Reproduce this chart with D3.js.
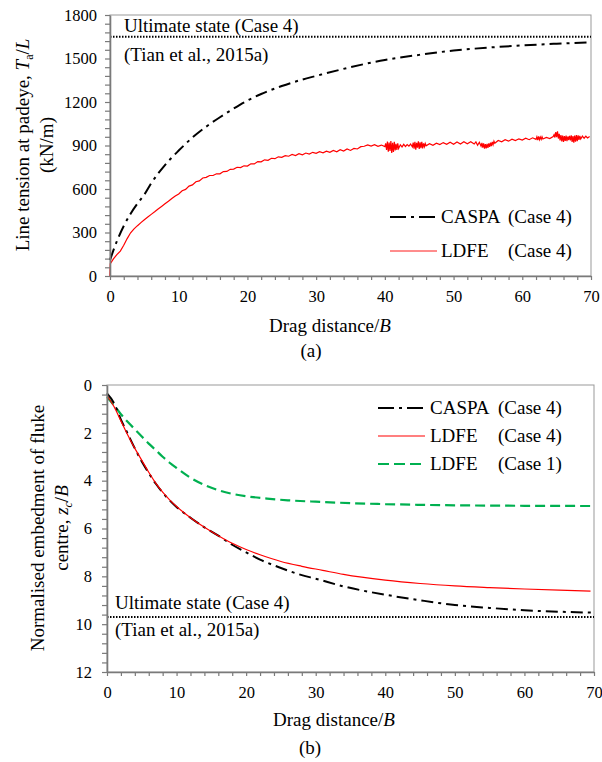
<!DOCTYPE html>
<html><head><meta charset="utf-8">
<script src="https://cdn.jsdelivr.net/npm/d3@7"></script>
<style>
body{margin:0;background:#fff}
svg{display:block}
text{font-family:"Liberation Serif","Times New Roman",serif;fill:#000}
</style>
</head><body>
<svg id="c" width="602" height="762" font-family='"Liberation Serif","Times New Roman",serif'></svg>
<script>
// ---------- DATA ----------
// (a) line tension at padeye (kN/m) vs drag distance/B
const caspaTension = [[0,110],[1,240],[2,345],[3,430],[4,500],[5,562],[6,640],[8,765],[10,865],[12,955],[14,1030],[16,1095],[18,1155],[20,1210],[22,1255],[25,1310],[28,1355],[30,1380],[35,1440],[40,1490],[45,1525],[50,1555],[55,1575],[60,1590],[65,1602],[70,1612]];
const ldfeTension = [[0,0],[0.05,85],[0.5,118],[1,148],[1.5,172],[2,212],[2.5,258],[3,298],[3.5,325],[4,347],[4.5,368],[5,388],[5.5,407],[6,425],[6.5,443],[7,462],[7.5,480],[8,498],[8.5,515],[9,535],[9.5,552],
[10,566],[10.5,588],[11,597],[11.5,620],[12,628],[12.5,650],[13,656],[13.5,676],[14,680],[14.5,693],[15,693],[15.5,705],[16,705],[16.5,720],[17,721],[17.5,736],[18,737],[18.5,750],[19,748],[19.5,760],[20,758],[20.5,774],[21,773],[21.5,789],[22,787],[22.5,801],[23,798],[23.5,812],[24,809],[24.5,822],[25,818],[25.5,830],[26,826],[26.5,838],[27,831],[27.5,843],[28,836],[28.5,848],[29,841],[29.5,853],[30,846],[30.5,857],[31,850],[31.5,861],[32,853],[32.5,866],[33,857],[33.5,871],[34,862],[34.5,876],[35,866],[35.5,880],[36,876],[36.5,892],[37,895],[37.5,904],[38,896],[38.5,905],[39,894],[39.5,903],
[40,892],[40.125,915],[40.25,870],[40.375,928],[40.5,858],[40.625,920],[40.75,862],[40.875,930],[41,848],[41.125,918],[41.25,855],[41.375,925],[41.5,866],[41.625,912],[41.75,870],[41.875,915],[42,880],
[42.25,905],[42.5,890],[42.75,908],[43,893],[43.25,906],[43.5,895],[43.75,910],[44,890],
[44.125,920],[44.25,878],[44.375,926],[44.5,872],[44.625,918],[44.75,885],[44.875,928],[45,876],[45.125,922],[45.25,882],[45.375,925],[45.5,880],[45.625,915],[45.75,892],[45.875,914],[46,898],
[46.5,912],[47,902],[47.5,916],[48,906],[48.5,920],[49,908],[49.5,922],[50,908],[50.5,924],[51,910],[51.5,926],[52,912],[52.5,926],[53,910],
[53.25,925],[53.5,902],[53.75,922],[54,895],[54.125,918],[54.25,885],[54.375,915],[54.5,878],[54.625,910],[54.75,880],[54.875,912],[55,884],[55.125,915],[55.25,890],[55.375,920],[55.5,895],[55.625,925],[55.75,905],[55.875,930],[56,915],
[56.5,935],[57,926],[57.5,940],[58,930],[58.5,944],[59,934],[59.5,946],[60,937],[60.5,950],[61,940],[61.5,953],[62,942],
[62.125,960],[62.25,938],[62.375,962],[62.5,940],[62.625,958],[62.75,942],[62.875,960],[63,945],[63.5,956],[64,948],[64.5,962],
[64.625,975],[64.75,955],[64.875,992],[65,958],[65.125,998],[65.25,948],[65.375,980],[65.5,935],[65.625,972],[65.75,928],[65.875,968],[66,925],[66.125,965],[66.25,932],[66.375,968],[66.5,930],[66.625,962],[66.75,938],[66.875,966],[67,935],[67.125,970],[67.25,925],[67.375,965],[67.5,920],[67.625,968],[67.75,926],[67.875,972],[68,930],[68.125,970],[68.25,938],[68.375,966],[68.5,945],[68.75,965],[69,950],[69.25,964],[69.5,952],[69.8,962]];
const ultimateTension = 1650;

// (b) normalised embedment of fluke centre z_c/B vs drag distance/B
const caspaEmbed = [[0,0.35],[1,0.75],[2,1.45],[3,2.05],[4,2.65],[5,3.2],[6,3.68],[7,4.12],[8,4.5],[9,4.82],[10,5.1],[12,5.55],[14,5.95],[16,6.3],[18,6.68],[20,7.0],[22,7.3],[25,7.65],[28,7.95],[30,8.1],[34,8.42],[40,8.77],[45,9.0],[50,9.2],[55,9.32],[60,9.42],[65,9.48],[70,9.52]];
const ldfeEmbed4 = [[0,0.45],[1,0.9],[2,1.5],[3,2.1],[4,2.65],[5,3.15],[6,3.65],[7,4.1],[8,4.48],[9,4.8],[10,5.08],[12,5.55],[14,5.95],[16,6.3],[18,6.62],[20,6.88],[22,7.1],[25,7.38],[28,7.58],[31,7.75],[34,7.92],[40,8.16],[45,8.3],[50,8.4],[55,8.47],[60,8.53],[65,8.58],[69.5,8.62]];
const ldfeEmbed1 = [[0,0.5],[1,0.85],[2,1.22],[3,1.55],[4,1.85],[5,2.15],[6,2.45],[7,2.72],[8,3.0],[9,3.25],[10,3.47],[12,3.88],[14,4.18],[16,4.4],[18,4.55],[20,4.65],[23,4.75],[26,4.82],[30,4.88],[35,4.94],[40,4.98],[45,5.01],[50,5.03],[60,5.05],[70,5.06]];
const ultimateEmbed = 9.7;

const xTickValues = d3.range(0, 71, 2);
const xMajor = [0,10,20,30,40,50,60,70];
const tensionTickValues = d3.range(0, 1801, 60);
const tensionMajor = [0,300,600,900,1200,1500,1800];
const embedTickValues = d3.range(0, 31).map(i => +(i*0.4).toFixed(1));
const embedMajor = [0,2,4,6,8,10,12];

const legendA = [{name:"CASPA", case:"(Case 4)", key:"caspa"},{name:"LDFE", case:"(Case 4)", key:"ldfe4"}];
const legendB = [{name:"CASPA", case:"(Case 4)", key:"caspa"},{name:"LDFE", case:"(Case 4)", key:"ldfe4"},{name:"LDFE", case:"(Case 1)", key:"ldfe1"}];

// ---------- STYLES ----------
const FONT = '"Liberation Serif","Times New Roman",serif';
const styles = {
  caspa:{stroke:"#000", width:2, dash:"12,5,3,5", legDash:"16,5,3,5"},
  ldfe4:{stroke:"#ff0000", width:1.2, dash:null, legDash:null},
  ldfe1:{stroke:"#00b050", width:2.2, dash:"10,5", legDash:"11,5"}
};
const axisColor = "#7a7a7a";
const svg = d3.select("#c");
const FS_TICK = 16.5, FS_LAB = 19;

function frame(g, x, y){
  const [x0,x1] = x.range(); const [y0,y1] = y.range();
  g.append("rect").attr("x",Math.min(x0,x1)).attr("y",Math.min(y0,y1))
    .attr("width",Math.abs(x1-x0)).attr("height",Math.abs(y1-y0))
    .attr("fill","none").attr("stroke","#999").attr("stroke-width",1);
}
function styleAxis(sel){
  sel.attr("font-family",FONT).attr("font-size",FS_TICK);
  sel.selectAll("path.domain").attr("stroke",axisColor).attr("stroke-width",1.6);
  sel.selectAll(".tick line").attr("stroke",axisColor).attr("stroke-width",1.2);
  sel.selectAll(".tick text").attr("fill","#000").attr("font-family",FONT).attr("font-size",FS_TICK);
}
function isMajor(v, list){ return list.some(m => Math.abs(m-v)<1e-6); }
function txt(g, x, y, s, anchor){
  return g.append("text").attr("x",x).attr("y",y).attr("font-family",FONT).attr("font-size",FS_LAB)
    .attr("text-anchor",anchor||"start").text(s);
}

// ---------- CHART (a) ----------
{
  const x = d3.scaleLinear().domain([0,70]).range([110,591]);
  const y = d3.scaleLinear().domain([0,1800]).range([276,15]);
  const g = svg.append("g");
  frame(g,x,y);
  g.append("line").attr("x1",x(0)).attr("x2",x(70)).attr("y1",y(ultimateTension)).attr("y2",y(ultimateTension))
    .attr("stroke","#000").attr("stroke-width",2).attr("stroke-dasharray","1.5,1.5");
  g.append("path").datum(ldfeTension).attr("d",d3.line().x(d=>x(d[0])).y(d=>y(d[1]))).attr("fill","none")
    .attr("stroke",styles.ldfe4.stroke).attr("stroke-width",styles.ldfe4.width);
  g.append("path").datum(caspaTension).attr("d",d3.line().x(d=>x(d[0])).y(d=>y(d[1])).curve(d3.curveMonotoneX))
    .attr("fill","none").attr("stroke","#000").attr("stroke-width",styles.caspa.width).attr("stroke-dasharray",styles.caspa.dash);
  const ax = g.append("g").attr("transform",`translate(0,${y(0)})`)
    .call(d3.axisBottom(x).tickValues(xTickValues).tickSize(4).tickSizeOuter(0).tickPadding(10)
      .tickFormat(v=>isMajor(v,xMajor)?v:""));
  styleAxis(ax);
  const ay = g.append("g").attr("transform",`translate(${x(0)},0)`)
    .call(d3.axisLeft(y).tickValues(tensionTickValues).tickSize(5).tickSizeOuter(0).tickPadding(8)
      .tickFormat(v=>isMajor(v,tensionMajor)?v:""));
  styleAxis(ay);
  txt(g,124,32,"Ultimate state (Case 4)");
  txt(g,124,61,"(Tian et al., 2015a)");
  const xt = txt(g,330,332,"","middle");
  xt.append("tspan").text("Drag distance/");
  xt.append("tspan").attr("font-style","italic").text("B");
  txt(g,311,357,"(a)","middle");
  const yt = g.append("text").attr("transform","rotate(-90)").attr("x",-145).attr("y",29).attr("text-anchor","middle").attr("font-family",FONT).attr("font-size",FS_LAB);
  yt.append("tspan").text("Line tension at padeye, ");
  yt.append("tspan").attr("font-style","italic").text("T");
  yt.append("tspan").attr("font-size",12).attr("dy",4).text("a");
  yt.append("tspan").attr("dy",-4).text("/");
  yt.append("tspan").attr("font-style","italic").text("L");
  g.append("text").attr("transform","rotate(-90)").attr("x",-145).attr("y",53).attr("text-anchor","middle").attr("font-family",FONT).attr("font-size",FS_LAB).text("(kN/m)");
  legendA.forEach((d,i)=>{
    const cy = 217 + i*34, s = styles[d.key];
    g.append("line").attr("x1",390).attr("x2",437).attr("y1",cy).attr("y2",cy)
      .attr("stroke",s.stroke).attr("stroke-width",d.key==="ldfe4"?0.9:s.width)
      .attr("stroke-dasharray",s.legDash);
    txt(g,441,cy+6,d.name);
    txt(g,508,cy+6,d.case);
  });
}

// ---------- CHART (b) ----------
{
  const x = d3.scaleLinear().domain([0,70]).range([107,594]);
  const y = d3.scaleLinear().domain([0,12]).range([385,672]);
  const g = svg.append("g");
  frame(g,x,y);
  g.append("line").attr("x1",x(0)).attr("x2",x(70)).attr("y1",y(ultimateEmbed)).attr("y2",y(ultimateEmbed))
    .attr("stroke","#000").attr("stroke-width",2).attr("stroke-dasharray","1.5,1.5");
  const line = d3.line().x(d=>x(d[0])).y(d=>y(d[1])).curve(d3.curveMonotoneX);
  g.append("path").datum(ldfeEmbed1).attr("d",line).attr("fill","none")
    .attr("stroke",styles.ldfe1.stroke).attr("stroke-width",styles.ldfe1.width).attr("stroke-dasharray",styles.ldfe1.dash);
  g.append("path").datum(caspaEmbed).attr("d",line).attr("fill","none")
    .attr("stroke","#000").attr("stroke-width",styles.caspa.width).attr("stroke-dasharray",styles.caspa.dash);
  g.append("path").datum(ldfeEmbed4).attr("d",line).attr("fill","none")
    .attr("stroke",styles.ldfe4.stroke).attr("stroke-width",1.2);
  const ax = g.append("g").attr("transform",`translate(0,${y(12)})`)
    .call(d3.axisBottom(x).tickValues(xTickValues).tickSize(4).tickSizeOuter(0).tickPadding(10)
      .tickFormat(v=>isMajor(v,xMajor)?v:""));
  styleAxis(ax);
  const ay = g.append("g").attr("transform",`translate(${x(0)},0)`)
    .call(d3.axisLeft(y).tickValues(embedTickValues).tickSize(5).tickSizeOuter(0).tickPadding(10)
      .tickFormat(v=>isMajor(v,embedMajor)?v:""));
  styleAxis(ay);
  txt(g,115,609,"Ultimate state (Case 4)");
  txt(g,115,636,"(Tian et al., 2015a)");
  const xt = txt(g,334,726,"","middle");
  xt.append("tspan").text("Drag distance/");
  xt.append("tspan").attr("font-style","italic").text("B");
  txt(g,310,754,"(b)","middle");
  g.append("text").attr("transform","rotate(-90)").attr("x",-528).attr("y",44).attr("text-anchor","middle").attr("font-family",FONT).attr("font-size",FS_LAB).text("Normalised embedment of fluke");
  const yt = g.append("text").attr("transform","rotate(-90)").attr("x",-528).attr("y",68).attr("text-anchor","middle").attr("font-family",FONT).attr("font-size",FS_LAB);
  yt.append("tspan").text("centre, ");
  yt.append("tspan").attr("font-style","italic").text("z");
  yt.append("tspan").attr("font-size",12).attr("font-style","italic").attr("dy",4).text("c");
  yt.append("tspan").attr("dy",-4).text("/");
  yt.append("tspan").attr("font-style","italic").text("B");
  legendB.forEach((d,i)=>{
    const cy = 408 + i*28, s = styles[d.key];
    g.append("line").attr("x1",378).attr("x2",425).attr("y1",cy).attr("y2",cy)
      .attr("stroke",s.stroke).attr("stroke-width",d.key==="ldfe4"?1.2:s.width)
      .attr("stroke-dasharray",s.legDash);
    txt(g,430,cy+6,d.name);
    txt(g,498,cy+6,d.case);
  });
}
</script>
</body></html>
